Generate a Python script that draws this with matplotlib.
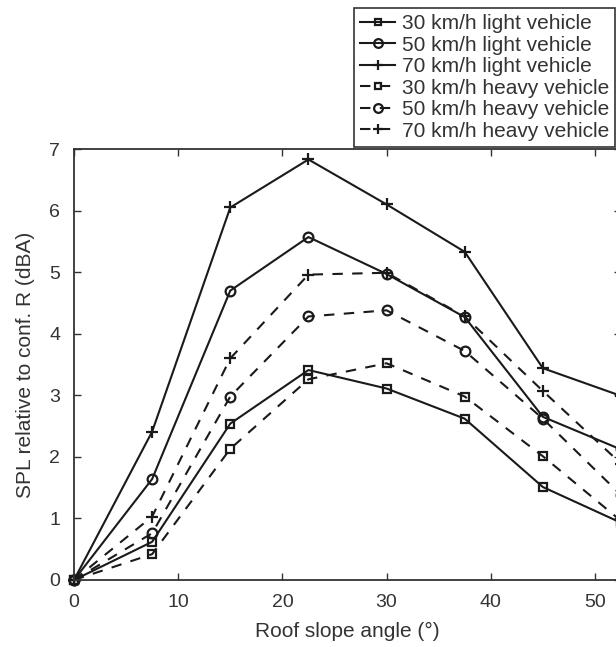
import matplotlib
matplotlib.use("Agg")
import matplotlib.pyplot as plt

plt.rcParams['font.family'] = ['Liberation Sans', 'DejaVu Sans']

angles = [0, 7.5, 15, 22.5, 30, 37.5, 45, 52.5]
light_30 = [0, 0.62, 2.54, 3.41, 3.11, 2.62, 1.51, 0.93]
light_50 = [0, 1.64, 4.70, 5.57, 4.97, 4.27, 2.65, 2.12]
light_70 = [0, 2.41, 6.05, 6.83, 6.10, 5.33, 3.44, 2.99]
heavy_30 = [0, 0.42, 2.13, 3.26, 3.52, 2.98, 2.01, 0.96]
heavy_50 = [0, 0.76, 2.98, 4.28, 4.38, 3.72, 2.62, 1.38]
heavy_70 = [0, 1.03, 3.60, 4.96, 4.99, 4.28, 3.07, 1.89]

labels = ["30 km/h light vehicle", "50 km/h light vehicle", "70 km/h light vehicle",
          "30 km/h heavy vehicle", "50 km/h heavy vehicle", "70 km/h heavy vehicle"]
series = [light_30, light_50, light_70, heavy_30, heavy_50, heavy_70]
markers = ['s', 'o', '+', 's', 'o', '+']
msizes = [5.5, 7, 8, 5.5, 7, 8]
styles = ['-', '-', '-', (0, (5, 4.5)), (0, (5, 4.5)), (0, (5, 4.5))]

fig = plt.figure(figsize=(6.16, 6.47), dpi=100)
ax = fig.add_axes([74/616, 67/647, 547/616, 431/647])

col = '#1a1a1a'
tcol = '#333333'
handles = []
for ys, lab, m, ms, ls in zip(series, labels, markers, msizes, styles):
    h, = ax.plot(angles, ys, color=col, lw=1.5, ls=ls, marker=m, ms=ms,
                 mfc='none', mec=col, mew=1.6, label=lab, clip_on=False)
    handles.append(h)

ax.set_xlim(0, 52.5)
ax.set_ylim(0, 7)
ax.set_xticks([0, 10, 20, 30, 40, 50])
ax.set_yticks(range(0, 8))
ax.tick_params(direction='in', top=True, right=True, length=5, width=1.0,
               labelsize=14, colors=tcol, pad=10)
for s in ax.spines.values():
    s.set_linewidth(1.3)
    s.set_color(tcol)
ax.set_xlabel("Roof slope angle (°)", fontsize=15, color=tcol, labelpad=8)
ax.set_ylabel("SPL relative to conf. R (dBA)", fontsize=15, color=tcol, labelpad=10)

leg = fig.legend(handles=handles, loc='lower right',
                 bbox_to_anchor=(615/616, (647-147)/647), fontsize=15,
                 handlelength=1.7, handletextpad=0.3, labelspacing=0.12,
                 borderpad=0.3, borderaxespad=0, fancybox=False, framealpha=1,
                 markerscale=0.9)
leg.get_frame().set_edgecolor(tcol)
leg.get_frame().set_linewidth(1.2)
for t in leg.get_texts():
    t.set_color(tcol)

fig.savefig("out.png", dpi=100)
